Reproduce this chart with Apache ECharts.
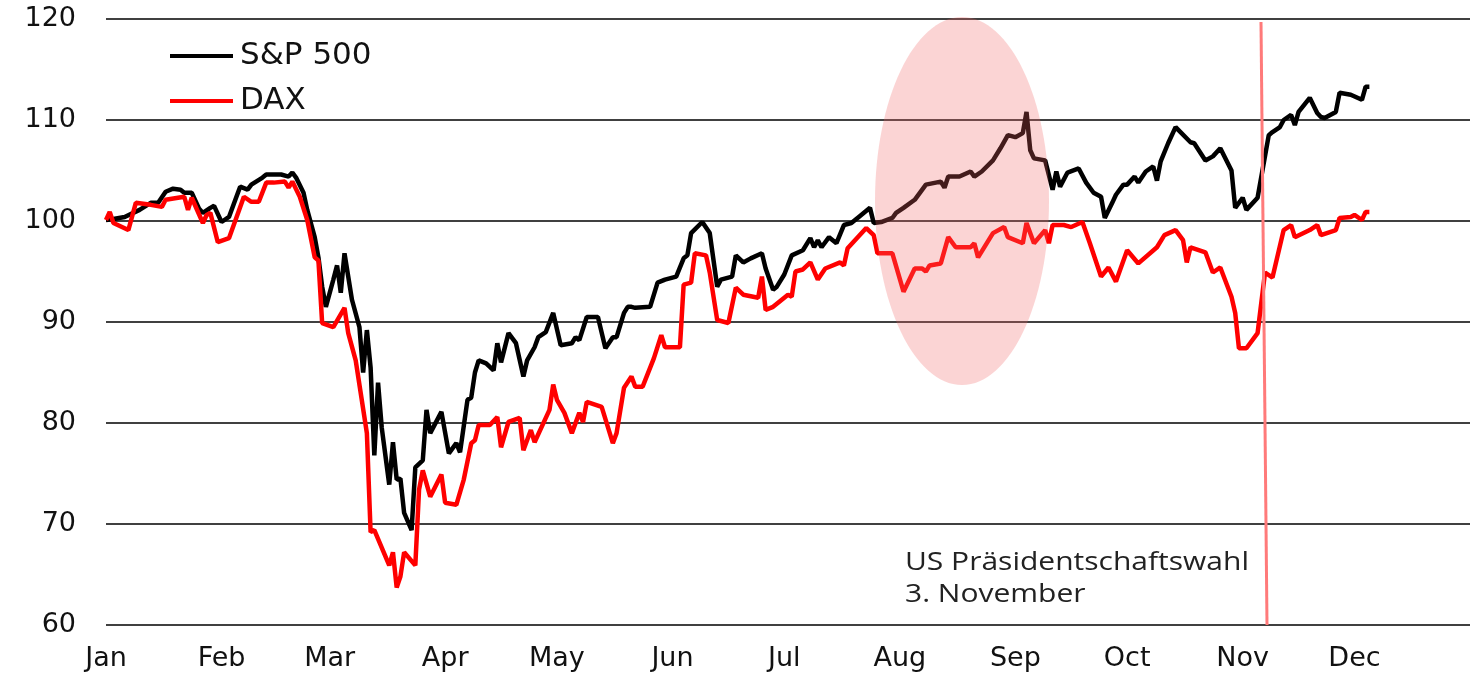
<!DOCTYPE html>
<html>
<head>
<meta charset="utf-8">
<script src="https://cdn.jsdelivr.net/npm/echarts@6/dist/echarts.min.js"></script>
<style>
  html, body { margin: 0; padding: 0; background: #fff; }
  #main { width: 1470px; height: 677px; }
</style>
</head>
<body>
<div id="main"></div>
<script>
// Monatsnamen der x-Achse
var months = ['Jan', 'Feb', 'Mar', 'Apr', 'May', 'Jun', 'Jul', 'Aug', 'Sep', 'Oct', 'Nov', 'Dec'];

// S&P 500 (Index, Jahresanfang = 100), x = Tag im Jahr 2020
var spxDay = [
    0, 2, 5, 9, 12, 14, 16, 18, 20, 21,
    23, 25, 26, 28, 29, 31, 33, 35, 36, 38,
    39, 42, 43, 45, 47, 49, 50, 51, 53, 54,
    56, 57, 58, 59, 61, 62, 63, 64, 66, 68,
    69, 70, 71, 72, 73, 74, 76, 77, 78, 79,
    80, 82, 83, 85, 86, 87, 90, 92, 94, 95,
    97, 98, 99, 100, 102, 104, 105, 106, 108, 110,
    112, 113, 115, 116, 118, 120, 122, 125, 126, 127,
    129, 132, 134, 136, 137, 139, 140, 141, 142, 146,
    148, 150, 153, 155, 156, 157, 160, 162, 164, 165,
    168, 169, 171, 173, 176, 177, 179, 180, 182, 184,
    187, 189, 190, 191, 192, 194, 196, 198, 200, 202,
    205, 206, 208, 211, 212, 214, 217, 220, 224, 225,
    226, 229, 232, 233, 235, 238, 240, 242, 244, 246,
    247, 248, 249, 252, 254, 255, 256, 258, 261, 263,
    265, 267, 268, 270, 271, 273, 274, 276, 277, 279,
    281, 282, 283, 285, 287, 291, 292, 295, 297, 299,
    302, 303, 305, 306, 309, 312, 313, 315, 316, 318,
    319, 320, 323, 325, 326, 327, 330, 331, 334, 337,
    338, 339
];
var spxVal = [
    100.1, 100.2, 100.4, 101.1, 101.8, 101.8, 102.9, 103.2, 103.1, 102.8,
    102.8, 101.2, 100.8, 101.3, 101.5, 99.9, 100.4, 102.4, 103.4, 103.1,
    103.6, 104.3, 104.6, 104.6, 104.6, 104.4, 104.8, 104.3, 102.8, 101.1,
    98.4, 96.4, 93.5, 91.5, 94.2, 95.6, 92.9, 96.8, 92.2, 89.5,
    85.0, 89.2, 85.5, 76.8, 84.0, 79.5, 73.9, 78.1, 74.4, 74.5,
    71.1, 69.4, 75.6, 76.3, 81.3, 79.0, 81.1, 77.0, 78.0, 77.1,
    82.3, 82.5, 85.0, 86.2, 85.9, 85.2, 87.9, 86.0, 88.9, 87.9,
    84.6, 86.2, 87.5, 88.5, 89.0, 90.9, 87.7, 87.9, 88.5, 88.2,
    90.5, 90.5, 87.4, 88.5, 88.5, 90.9, 91.5, 91.5, 91.4, 91.5,
    93.9, 94.2, 94.5, 96.3, 96.6, 98.8, 99.9, 98.8, 93.5, 94.2,
    94.5, 96.6, 95.9, 96.3, 96.8, 95.3, 93.2, 93.5, 94.7, 96.6,
    97.1, 98.3, 97.4, 98.1, 97.4, 98.4, 97.8, 99.6, 99.8, 100.4,
    101.3, 99.8, 99.9, 100.3, 100.8, 101.3, 102.1, 103.6, 103.9, 103.3,
    104.4, 104.4, 104.9, 104.4, 104.9, 106.0, 107.2, 108.5, 108.3, 108.7,
    110.8, 107.0, 106.2, 106.0, 103.1, 104.9, 103.4, 104.8, 105.2, 103.8,
    102.8, 102.4, 100.3, 101.8, 102.6, 103.6, 103.6, 104.4, 103.8, 104.9,
    105.4, 104.0, 105.9, 107.7, 109.3, 107.8, 107.7, 106.0, 106.4, 107.2,
    105.0, 101.3, 102.3, 101.1, 102.3, 108.5, 108.8, 109.3, 110.0, 110.5,
    109.5, 110.8, 112.2, 110.7, 110.3, 110.2, 110.8, 112.7, 112.5, 112.0,
    113.3, 113.3
];

// DAX (Index, Jahresanfang = 100)
var daxDay = [
    0, 1, 2, 6, 8, 12, 15, 16, 21, 22,
    23, 26, 27, 28, 30, 33, 37, 39, 41, 43,
    45, 48, 49, 50, 52, 54, 56, 57, 58, 61,
    64, 65, 67, 70, 71, 72, 76, 77, 78, 79,
    80, 83, 84, 85, 87, 90, 91, 94, 96, 98,
    99, 100, 103, 105, 106, 108, 111, 112, 114, 115,
    119, 120, 121, 123, 125, 127, 128, 129, 133, 136,
    137, 139, 141, 142, 144, 147, 149, 150, 154, 155,
    157, 158, 161, 162, 164, 167, 169, 171, 175, 176,
    177, 179, 183, 184, 185, 187, 189, 191, 193, 197,
    198, 199, 204, 206, 207, 211, 214, 217, 219, 220,
    221, 224, 226, 228, 232, 233, 234, 238, 241, 242,
    246, 247, 249, 252, 253, 254, 257, 259, 262, 264,
    267, 269, 271, 274, 277, 282, 284, 287, 289, 290,
    291, 295, 297, 299, 302, 303, 304, 306, 309, 311,
    313, 316, 318, 319, 323, 325, 326, 330, 331, 334,
    335, 337, 338, 339
];
var daxVal = [
    100.1, 100.9, 99.8, 99.1, 101.8, 101.6, 101.4, 102.1, 102.4, 101.1,
    102.3, 99.8, 100.6, 100.8, 97.9, 98.3, 102.4, 101.9, 101.9, 103.8,
    103.8, 103.9, 103.3, 103.9, 102.4, 100.1, 96.4, 96.1, 89.9, 89.5,
    91.4, 88.9, 86.2, 79.0, 69.2, 69.4, 65.9, 67.2, 63.7, 64.8,
    67.2, 65.9, 73.4, 75.3, 72.7, 74.9, 72.1, 71.9, 74.4, 78.0,
    78.3, 79.8, 79.8, 80.6, 77.6, 80.1, 80.5, 77.3, 79.3, 78.1,
    81.3, 83.8, 82.3, 81.0, 79.0, 81.0, 80.1, 82.1, 81.6, 78.0,
    79.0, 83.5, 84.6, 83.6, 83.6, 86.4, 88.7, 87.5, 87.5, 93.7,
    93.9, 96.8, 96.6, 94.9, 90.2, 89.9, 93.4, 92.7, 92.4, 94.5,
    91.2, 91.5, 92.7, 92.5, 95.0, 95.2, 95.9, 94.2, 95.3, 95.9,
    95.6, 97.3, 99.3, 98.6, 96.8, 96.8, 93.0, 95.3, 95.3, 95.0,
    95.6, 95.8, 98.4, 97.4, 97.4, 97.8, 96.4, 98.8, 99.4, 98.4,
    97.8, 99.8, 97.8, 99.1, 97.8, 99.6, 99.6, 99.4, 99.9, 97.8,
    94.5, 95.4, 94.0, 97.1, 95.8, 97.4, 98.6, 99.1, 98.1, 95.9,
    97.4, 96.9, 94.9, 95.4, 92.5, 90.9, 87.4, 87.4, 88.9, 94.9,
    94.4, 99.1, 99.6, 98.4, 99.1, 99.6, 98.6, 99.1, 100.3, 100.4,
    100.6, 100.1, 100.9, 100.9
];

var start = new Date(2020, 0, 1).getTime();
var end = new Date(2021, 0, 1).getTime();
var DAY = 24 * 3600 * 1000;

function toPairs(days, vals) {
    return days.map(function (d, i) {
        return [start + d * DAY, vals[i]];
    });
}

var myChart = echarts.init(document.getElementById('main'));

var option = {
    animation: false,
    backgroundColor: '#fff',
    grid: { left: 106, right: 0, top: 19, bottom: 52 },
    legend: {
        orient: 'vertical',
        left: 165,
        top: 34,
        icon: 'rect',
        itemWidth: 63,
        itemHeight: 4,
        itemGap: 11,
        textStyle: { fontFamily: 'DejaVu Sans', fontSize: 31, lineHeight: 34, color: '#111', padding: [0, 0, 0, 2] },
        data: ['S&P 500', 'DAX']
    },
    xAxis: {
        type: 'time',
        min: start,
        max: end,
        splitNumber: 12,
        minInterval: 28 * DAY,
        maxInterval: 31 * DAY,
        axisLine: { show: false },
        axisTick: { show: false },
        splitLine: { show: false },
        axisLabel: {
            fontFamily: 'DejaVu Sans',
            fontSize: 27,
            color: '#111',
            margin: 20,
            showMaxLabel: false,
            hideOverlap: false,
            formatter: function (val) {
                var d = new Date(val);
                if (d.getFullYear() !== 2020) return '';
                return months[d.getMonth()];
            }
        }
    },
    yAxis: {
        type: 'value',
        min: 60,
        max: 120,
        interval: 10,
        axisLine: { show: false },
        axisTick: { show: false },
        splitLine: { lineStyle: { color: '#000', width: 1.6 } },
        axisLabel: { fontFamily: 'DejaVu Sans', fontSize: 27, color: '#111', margin: 30 }
    },
    series: [
        {
            name: 'S&P 500',
            type: 'line',
            symbol: 'none',
            lineStyle: { color: '#000', width: 4.5 },
            itemStyle: { color: '#000' },
            data: toPairs(spxDay, spxVal)
        },
        {
            name: 'DAX',
            type: 'line',
            symbol: 'none',
            lineStyle: { color: '#ff0000', width: 4.5 },
            itemStyle: { color: '#ff0000' },
            data: toPairs(daxDay, daxVal)
        }
    ],
    graphic: [
        {
            type: 'ellipse',
            z: 100,
            shape: { cx: 962, cy: 201, rx: 87, ry: 184 },
            style: { fill: 'rgba(240,100,100,0.28)' }
        },
        {
            type: 'line',
            z: 101,
            shape: { x1: 1261, y1: 22, x2: 1267, y2: 625 },
            style: { stroke: '#ff7a7a', lineWidth: 3 }
        },
        {
            type: 'text',
            z: 101,
            x: 905,
            y: 547,
            scaleX: 1.2,
            style: {
                text: 'US Präsidentschaftswahl\n3. November',
                font: '25px "Open Sans"',
                fill: '#222',
                lineHeight: 32,
                verticalAlign: 'top'
            }
        }
    ]
};

myChart.setOption(option);
</script>
</body>
</html>
